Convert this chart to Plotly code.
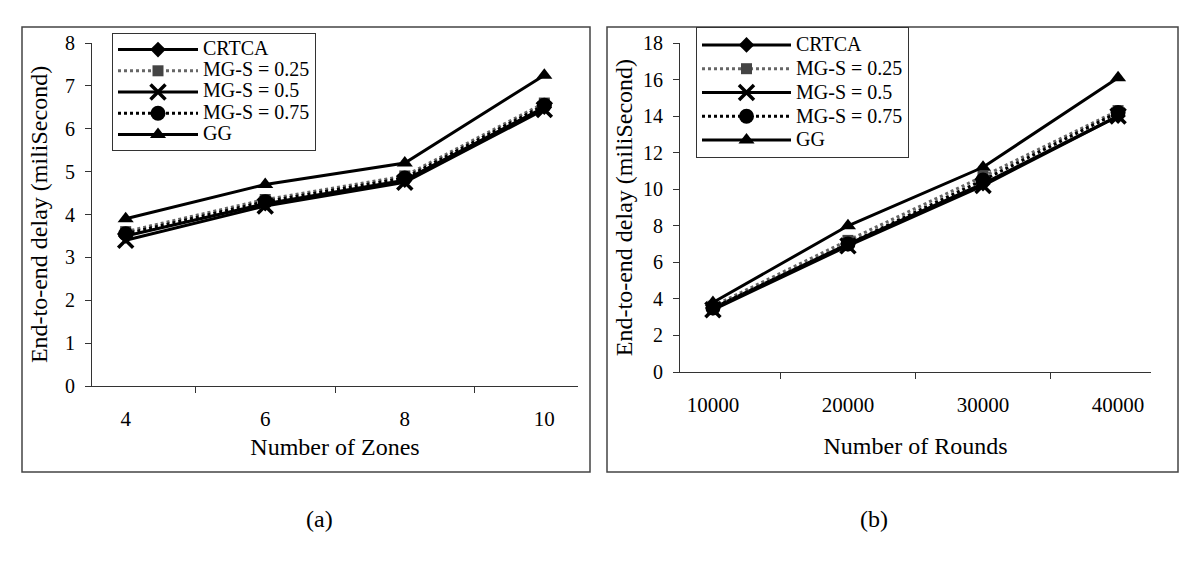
import plotly.graph_objects as go

zones = ["4", "6", "8", "10"]
rounds = ["10000", "20000", "30000", "40000"]

series_names = ["CRTCA", "MG-S = 0.25", "MG-S = 0.5", "MG-S = 0.75", "GG"]

# panel (a): delay vs number of zones
zones_crtca = [3.5, 4.25, 4.8, 6.5]
zones_mg025 = [3.6, 4.35, 4.9, 6.6]
zones_mg05 = [3.4, 4.2, 4.75, 6.45]
zones_mg075 = [3.55, 4.3, 4.85, 6.55]
zones_gg = [3.9, 4.7, 5.2, 7.25]

# panel (b): delay vs number of rounds
rounds_crtca = [3.5, 7.0, 10.3, 14.0]
rounds_mg025 = [3.6, 7.2, 10.7, 14.3]
rounds_mg05 = [3.4, 6.9, 10.2, 14.0]
rounds_mg075 = [3.5, 7.0, 10.5, 14.2]
rounds_gg = [3.8, 8.0, 11.2, 16.1]

styles = [
    dict(line=dict(color="black", width=3, dash="solid"),
         marker=dict(symbol="diamond", size=12, color="black")),
    dict(line=dict(color="#666666", width=3, dash="dot"),
         marker=dict(symbol="square", size=11, color="#444444")),
    dict(line=dict(color="black", width=3, dash="solid"),
         marker=dict(symbol="x-thin-open", size=15, color="black",
                     line=dict(width=3.5, color="black"))),
    dict(line=dict(color="black", width=3, dash="dot"),
         marker=dict(symbol="circle", size=15, color="black")),
    dict(line=dict(color="black", width=3, dash="solid"),
         marker=dict(symbol="triangle-up", size=14, color="black")),
]

W, H = 1200, 568
FONT = "Liberation Serif"

fig = go.Figure()

left_data = [zones_crtca, zones_mg025, zones_mg05, zones_mg075, zones_gg]
right_data = [rounds_crtca, rounds_mg025, rounds_mg05, rounds_mg075, rounds_gg]


def big(name):
    # legend rows are spaced by the legend font size, the label itself is larger
    return '<span style="font-size:20px">' + name + '</span>'


for name, ys, st in zip(series_names, left_data, styles):
    fig.add_trace(go.Scatter(x=zones, y=ys, name=big(name), mode="lines+markers",
                             xaxis="x", yaxis="y", legend="legend", **st))
for name, ys, st in zip(series_names, right_data, styles):
    fig.add_trace(go.Scatter(x=rounds, y=ys, name=big(name), mode="lines+markers",
                             xaxis="x2", yaxis="y2", legend="legend2", **st))


def px_x(v):
    return v / W


def px_y(v):
    return 1 - v / H


xcommon = dict(type="category", tickson="boundaries", ticks="outside",
               ticklen=6, tickcolor="#333", showline=True, linecolor="#333",
               linewidth=1, showgrid=False, zeroline=False, ticklabelstandoff=14,
               automargin=False,
               tickfont=dict(family=FONT, size=21, color="black"))
ycommon = dict(ticks="outside", ticklen=6, tickcolor="#333", showline=True,
               linecolor="#333", linewidth=1, showgrid=False, zeroline=False,
               ticklabelstandoff=6, automargin=False,
               tickfont=dict(family=FONT, size=20, color="black"))

fig.update_layout(
    width=W, height=H,
    margin=dict(l=0, r=0, t=0, b=0, autoexpand=False),
    paper_bgcolor="white", plot_bgcolor="white",
    font=dict(family=FONT, color="black"),
    xaxis=dict(domain=[px_x(92), px_x(578)], anchor="y",
               title=dict(text="Number of Zones", font=dict(family=FONT, size=24), standoff=7),
               **xcommon),
    yaxis=dict(domain=[px_y(386), px_y(43)], anchor="x", range=[0, 8], dtick=1,
               title=dict(text="End-to-end delay (miliSecond)", font=dict(family=FONT, size=24), standoff=10),
               **ycommon),
    xaxis2=dict(domain=[px_x(680), px_x(1151)], anchor="y2",
                title=dict(text="Number of Rounds", font=dict(family=FONT, size=24), standoff=20),
                **xcommon),
    yaxis2=dict(domain=[px_y(372), px_y(43)], anchor="x2", range=[0, 18], dtick=2,
                title=dict(text="End-to-end delay (miliSecond)", font=dict(family=FONT, size=24), standoff=3),
                **ycommon),
    legend=dict(x=px_x(112), y=px_y(33), xanchor="left", yanchor="top",
                bordercolor="#333", borderwidth=1, bgcolor="white",
                font=dict(family=FONT, size=14), tracegroupgap=0,
                itemwidth=80, traceorder="normal"),
    legend2=dict(x=px_x(696), y=px_y(27), xanchor="left", yanchor="top",
                 bordercolor="#333", borderwidth=1, bgcolor="white",
                 font=dict(family=FONT, size=16), tracegroupgap=0,
                 itemwidth=89, traceorder="normal"),
)

# outer frames around each panel
for x0, x1 in [(22, 590), (607, 1178)]:
    fig.add_shape(type="rect", xref="paper", yref="paper",
                  x0=px_x(x0), x1=px_x(x1), y0=px_y(472), y1=px_y(27),
                  line=dict(color="#444", width=1.5))

for label, xc in [("(a)", 304), ("(b)", 890)]:
    fig.add_annotation(text=label, xref="paper", yref="paper",
                       x=px_x(xc), y=px_y(534), showarrow=False,
                       font=dict(family=FONT, size=24, color="black"))

# drop the default page margin so the figure sits at the window origin
fig.write_html("out.html", config={"displayModeBar": False},
               post_script="document.body.style.margin='0';"
                           "document.body.style.overflow='hidden';")
